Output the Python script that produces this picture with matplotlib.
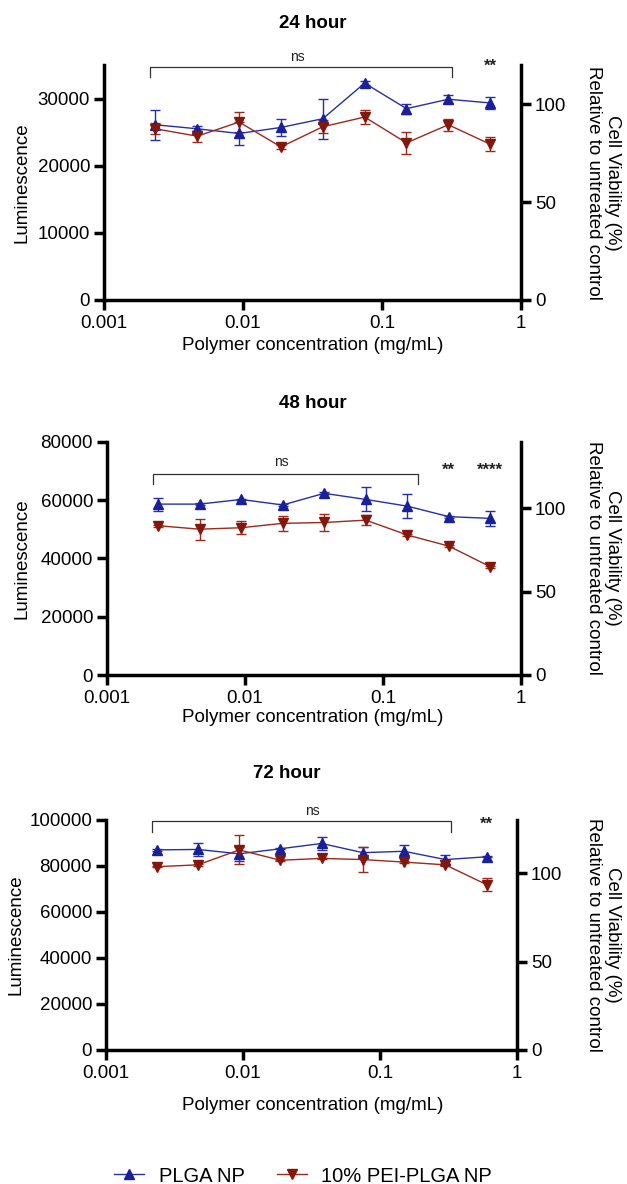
import matplotlib
matplotlib.use("Agg")
import matplotlib.pyplot as plt
from matplotlib.ticker import NullLocator
from matplotlib.lines import Line2D
import matplotlib.transforms as mtransforms

plt.rcParams['font.family'] = ['Liberation Sans', 'DejaVu Sans']

# ---------------- data ----------------
conc = [0.00234, 0.00469, 0.00938, 0.01875, 0.0375, 0.075, 0.15, 0.3, 0.6]

titles = ["24 hour", "48 hour", "72 hour"]

plga_24 = [26100, 25500, 24800, 25700, 27000, 32300, 28500, 29900, 29350]
plga_24_err = [2200, 400, 1650, 1300, 3000, 300, 750, 600, 850]
pei_24 = [25500, 24400, 26500, 22800, 25800, 27250, 23400, 26100, 23200]
pei_24_err = [800, 800, 1500, 300, 1000, 1100, 1600, 900, 1050]

plga_48 = [58600, 58600, 60200, 58300, 62300, 60200, 57900, 54300, 53700]
plga_48_err = [2200, 300, 300, 300, 300, 4100, 4000, 300, 2600]
pei_48 = [51200, 50000, 50500, 52000, 52300, 53100, 48000, 44200, 37100]
pei_48_err = [300, 3600, 2200, 2600, 2900, 1700, 300, 300, 300]

plga_72 = [87000, 87200, 85300, 87500, 89800, 85800, 86400, 82800, 84000]
plga_72_err = [300, 3000, 3000, 300, 2700, 2500, 2600, 1900, 300]
pei_72 = [79700, 80500, 87000, 82500, 83300, 82800, 81700, 80500, 71900]
pei_72_err = [300, 300, 6300, 300, 300, 5300, 300, 300, 2700]

left_ylim = [35000, 80000, 100000]
left_ticks = [[0, 10000, 20000, 30000],
              [0, 20000, 40000, 60000, 80000],
              [0, 20000, 40000, 60000, 80000, 100000]]
right_ylim = [120, 140, 130]
right_ticks = [0, 50, 100]
xticks = [0.001, 0.01, 0.1, 1]
xticklabels = ["0.001", "0.01", "0.1", "1"]

# significance annotations: (bracket start, bracket end, ns x), star labels
brackets = [(0.00215, 0.32, 0.0247), (0.00215, 0.18, 0.0182), (0.00215, 0.33, 0.0319)]
stars = [[(0.6, "**")], [(0.3, "**"), (0.6, "****")], [(0.6, "**")]]

series_plga = [(plga_24, plga_24_err), (plga_48, plga_48_err), (plga_72, plga_72_err)]
series_pei = [(pei_24, pei_24_err), (pei_48, pei_48_err), (pei_72, pei_72_err)]

# ---------------- layout (pixels) ----------------
W, H = 627, 1184
boxes = [(104, 521, 65, 300), (107, 521, 441.7, 675), (106, 517, 820, 1050)]
title_pos = [(313, 23), (313, 403), (287, 773)]
xlabel_y = [345, 718, 1106]
ylabel_x = [22, 22, 16]
bracket_y = [(0.991, 0.949, 1.034, 0.996), (0.862, 0.819, 0.914, 0.876), (0.996, 0.949, 1.039, 0.983)]

blue = '#2430A8'
blue_m = '#1A1F9A'
red = '#9A2A1C'
red_m = '#84170C'
SW = 2.5
FS = 13.5

fig = plt.figure(figsize=(W / 100, H / 100), dpi=100)

for i in range(3):
    x0, x1, yt, yb = boxes[i]
    ax = fig.add_axes([x0 / W, 1 - yb / H, (x1 - x0) / W, (yb - yt) / H])
    ax.set_xscale('log')
    ax.set_xlim(0.001, 1)
    ax.set_ylim(0, left_ylim[i])
    ax2 = ax.twinx()
    ax2.set_ylim(0, right_ylim[i])

    y, e = series_plga[i]
    ax.errorbar(conc, y, yerr=e, color=blue, lw=1.0, elinewidth=1.0, capsize=3.6,
                capthick=1.0, marker='^', ms=7.5, mfc=blue_m, mec=blue_m, zorder=3,
                label='PLGA NP', clip_on=False)
    y, e = series_pei[i]
    ax.errorbar(conc, y, yerr=e, color=red, lw=1.0, elinewidth=1.0, capsize=3.6,
                capthick=1.0, marker='v', ms=7.5, mfc=red_m, mec=red_m, zorder=3,
                label='10% PEI-PLGA NP', clip_on=False)

    ax.set_xticks(xticks)
    ax.set_xticklabels(xticklabels)
    ax.xaxis.set_minor_locator(NullLocator())
    ax.set_yticks(left_ticks[i])
    ax.set_yticklabels([str(t) for t in left_ticks[i]])
    ax2.set_yticks(right_ticks)
    ax2.set_yticklabels([str(t) for t in right_ticks])

    for a in (ax, ax2):
        a.spines['top'].set_visible(False)
        for s in a.spines.values():
            s.set_linewidth(SW)
            s.set_capstyle('projecting')
        a.tick_params(width=SW, length=7.5, labelsize=FS, pad=2.5, direction='out')
    ax.spines['right'].set_visible(False)
    ax2.spines['left'].set_visible(False)
    ax2.spines['bottom'].set_visible(False)
    ax.tick_params(axis='x', pad=3)

    ax.text(ylabel_x[i] / W, 0.5, "Luminescence", rotation=90, fontsize=FS,
            ha='center', va='center',
            transform=mtransforms.blended_transform_factory(fig.transFigure, ax.transAxes))
    fig.text(603 / W, 1 - ((yt + yb) / 2) / H, "Cell Viability (%)\nRelative to untreated control",
             rotation=270, fontsize=FS, ha='center', va='center', multialignment='center',
             linespacing=1.12)
    fig.text(313 / W, 1 - xlabel_y[i] / H, "Polymer concentration (mg/mL)", fontsize=FS,
             ha='center', va='center')
    fig.text(title_pos[i][0] / W, 1 - title_pos[i][1] / H, titles[i], fontsize=13.5,
             fontweight='bold', ha='center', va='center')

    trans = mtransforms.blended_transform_factory(ax.transData, ax.transAxes)
    bx0, bx1, nsx = brackets[i]
    hy, ly, nsy, sy = bracket_y[i]
    ax.plot([bx0, bx0, bx1, bx1], [ly, hy, hy, ly], color='#333333', lw=0.9,
            transform=trans, clip_on=False, zorder=4)
    ax.text(nsx, nsy, "ns", fontsize=10, ha='center', va='center', transform=trans,
            color='#222222')
    for sx, st in stars[i]:
        ax.text(sx, sy, st, fontsize=12, fontweight='bold', ha='center', va='center',
                transform=trans, color='#222222')

handles = [Line2D([], [], color=blue, lw=1.0, marker='^', ms=6.5, mfc=blue_m, mec=blue_m),
           Line2D([], [], color=red, lw=1.0, marker='v', ms=6.5, mfc=red_m, mec=red_m)]
fig.legend(handles, ['PLGA NP', '10% PEI-PLGA NP'], loc='center', ncol=2,
           bbox_to_anchor=(303 / W, 1 - 1176 / H), frameon=False, fontsize=14.5,
           handlelength=1.5, handletextpad=0.7, columnspacing=1.6)

fig.savefig("out.png", dpi=100)
